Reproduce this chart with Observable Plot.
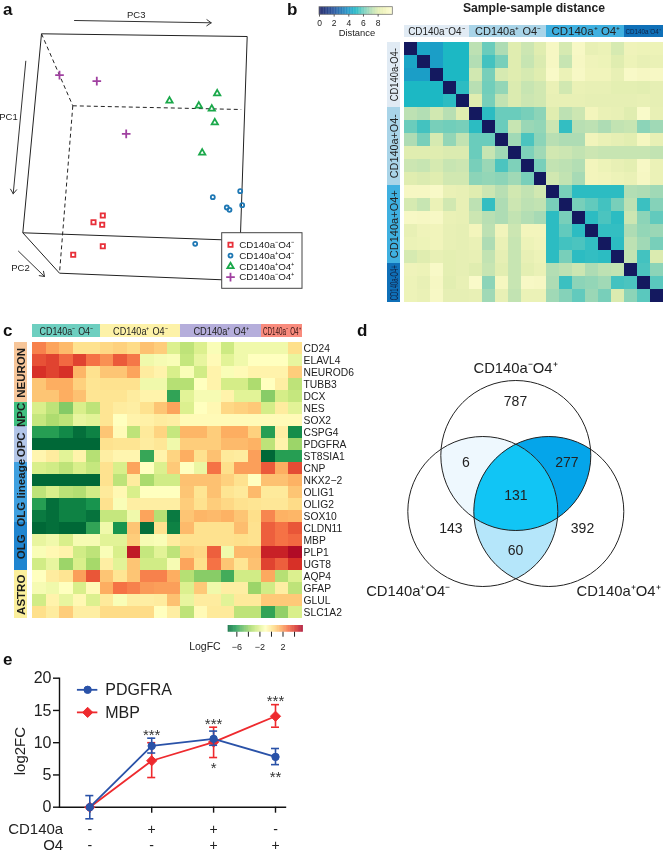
<!DOCTYPE html>
<html><head><meta charset="utf-8">
<script src="https://cdn.jsdelivr.net/npm/d3@7"></script>
<script src="https://cdn.jsdelivr.net/npm/@observablehq/plot@0.6"></script>
<style>
html,body{margin:0;padding:0;background:#fff}
#fig{position:relative;width:664px;height:853px;overflow:hidden;font-family:"Liberation Sans",Arial,sans-serif;filter:blur(.35px)}
.ltr{position:absolute;font:bold 17px "Liberation Sans",Arial,sans-serif;color:#111}
</style></head><body><div id="fig"></div>
<script>
// ---------- panel a: PCA scores
const pcaSquares = [[102.3,215],[93,221.7],[101.7,224.3],[102.3,245.7],[72.7,254.3]];
const pcaCircles = [[239.7,190.7],[212.3,196.7],[226.3,207],[229,209.3],[241.7,204.7],[194.7,243.3]];
const pcaTriangles = [[216.7,93],[169,100.3],[198.3,105.3],[211.3,108.3],[214.3,122],[201.7,152.3]];
const pcaPlus = [[59,74.7],[96.3,80.7],[125.7,133.3]];
const boxSolid = [[41,33.3,246.7,36],[246.7,36,240,233.3],[41,33.3,22.3,232.3],[22.3,232.3,222,239.3],[22.3,232.3,59,272.7],[59,272.7,222,279.3]];
const boxDashed = [[41,33.3,72.3,105.3],[72.3,105.3,240.7,109],[72.3,105.3,59,272.7]];
const pcArrows = [[74,20,210.7,22.3],[25.3,60.7,12.7,193.3],[18,250.7,44,276]];
const pcNames = ["PC3","PC1","PC2"];
const pcaLegend = ["CD140a⁻O4⁻","CD140a⁺O4⁻","CD140a⁺O4⁺","CD140a⁻O4⁺"];

// ---------- panel b: sample distances, upper triangle, rows start right of the diagonal
const distRows = [
 [4.4,4.2,5,5,7.3,6,7,8,7.6,8,9.3,7.8,9.4,8.4,8.6,7.8,8.8,8.7,8.7],
 [4.2,5,5,7.1,5.5,6.2,8,7.5,7.9,9.3,7.5,9.3,8.8,8.7,8,8.7,8.4,8.5],
 [5,5,7.7,6.2,7.8,8,7.8,8,9.5,8.6,9.4,8.9,8.9,8.4,9.5,9.3,9.4],
 [5.2,7.2,6.1,6.6,7.9,7.5,7.7,8.5,7.7,8.5,8.4,8.4,8.2,8.2,8.1,8.3],
 [8,6.2,7.4,7.9,7.6,7.7,8.4,8.4,8.4,8.3,8.3,8.3,8.3,8.4,8.3],
 [5.2,6,6,6.2,6.5,8,7.3,7.6,9,8.5,8.4,8,9.6,8.4],
 [6,7.5,6.7,6.6,7.6,5.3,7.2,7.3,7,7.4,7.5,6.5,6.8],
 [6.8,5.6,6.5,7.2,7,7,8.9,8.5,8.3,8.1,9.2,8.4],
 [6.3,6.8,7.7,7.6,7.4,7.6,7.5,7.5,7.5,7.5,7.4],
 [6.2,7.4,7.3,7.1,9,8.7,8.4,8.2,9.4,8.6],
 [7.7,7.4,6.9,9,8.9,8.7,8.5,9.3,8.6],
 [6.2,5.2,5.2,5.2,5.2,7.1,7,6.8],
 [6.2,5.9,5.5,6.2,7.3,5.4,6.4],
 [5.2,5.6,5.2,7.6,6.5,5.9],
 [5.3,5.3,7,6.6,6.7],
 [5.2,7.3,6.8,6.2],
 [7.4,5.5,7.9],
 [5.6,6.5],
 [5.8],
 []
];
const groupNames = ["CD140a⁻O4⁻","CD140a⁺ O4⁻","CD140a⁺ O4⁺","CD140a⁻O4⁺"];
const groupSizes = [5,6,6,3];
const distRowNames = ["CD140a-O4-","CD140a+O4-","CD140a+O4+","CD140a-O4+"];
const distStripColors = ["#e1ebf4","#a9d4e8","#3fb0e0","#0f70b8"];
const distStops = [0,2,4,5,6,7,8,9,10];
const distColors = ["#14195f","#1e4f9c","#1b98c8","#1cb8c4","#6accbc","#aedcb4","#e0edb0","#f3f5bc","#fdfdd2"];
const distTicks = [0,2,4,6,8];

// ---------- panel c: log fold change, gene by sample
const genes = ["CD24","ELAVL4","NEUROD6","TUBB3","DCX","NES","SOX2","CSPG4","PDGFRA","ST8SIA1","CNP","NKX2−2","OLIG1","OLIG2","SOX10","CLDN11","MBP","PLP1","UGT8","AQP4","GFAP","GLUL","SLC1A2"];
const logFC = [
 [2.5,1.8,1.3,.2,.2,.5,.7,.4,1.1,.8,-2.2,-3,-2.2,-1.2,-2.6,-1.5,-1.5,-1.5,-1.5,.3],
 [3.5,3.8,3,3.8,2.8,2.2,3.3,2.7,-1.5,-1.3,-1.2,-2.8,-1.8,-.8,-2,-1.5,-1,-1,-1,-1.8],
 [4.2,3.8,4.2,1.4,.2,1,1,1.8,-.2,-.5,-2.3,-1.2,-2.5,-.5,-1.2,-.8,-.5,-.5,-.5,.8],
 [1,1.6,1.6,.7,.1,.2,.2,.2,-1.5,-1.5,-3.2,-3.2,-1,-.5,-2.4,-2.4,-3.4,-1,-.3,-3],
 [1,1,1.6,1.1,.1,.1,.1,-.2,-.5,-.5,-5.8,-2,-1.3,-1.3,-.5,-2,-2,-4.2,-2.4,-2.8],
 [-2.3,-3,-4.3,-2.3,-3,.1,-.2,-.3,.2,1,1.8,-2.2,-1,-.7,.5,.7,.9,-2.4,-.2,-2],
 [-2.8,-3.4,-3,-1.8,-2,.1,-1,-.5,-.4,-.2,-.3,-.8,-.8,-.8,-.8,-.8,-.8,-.8,-.8,-.8],
 [-6,-6,-6.6,-7.3,-6.8,1,-.8,-3,-.1,.6,-2.8,1.4,1.4,.8,1.6,1.6,.7,-6,-.3,-6.5],
 [-7.5,-7.5,-7.5,-7.5,-7.5,.2,.1,.1,-.2,0,-1.5,.8,.8,.8,1.3,1.3,1.5,-3,-.5,-3.8],
 [-.6,-.2,-2,-.5,-3.2,-.3,-.6,-.6,-5.7,-.5,.6,1.6,.2,1.1,-.1,-.2,1.9,-7.5,-6,-6],
 [-2.3,-2.5,-3,-2.3,-2.8,.2,-2.3,1.8,-1,-2.2,.9,-1,-1.7,2.8,.3,1.9,1.9,3.3,1.6,3.6],
 [-7.5,-7.5,-7.5,-7.5,-7.5,.2,-3,-.2,-3.5,-2.5,-2.5,1.1,1.1,1.1,.7,.2,-1,1.1,1.1,1.5],
 [-3,-2.3,-3.1,-3.3,-2.5,-.1,-.7,-2.3,-1,-1,-1,1,.1,1.1,.1,-.1,1.3,-.1,-.1,1],
 [-6,-7.3,-6.8,-6.8,-6.3,.2,-1.2,-.3,-.3,-.3,-.3,.8,.2,.8,.5,.2,.1,0,0,.4],
 [-7,-7.3,-6.8,-6.8,-7.2,-2.8,-2.8,-1.5,1.8,-3.2,-7,1,1.4,1.3,1.5,1,.3,2.4,1.5,1.4],
 [-7.5,-7.3,-7.5,-7.5,-5.8,-1.5,-6.3,1,-7.3,.2,-6.8,1.3,.2,.2,.2,1.2,.2,3.2,2.8,3.4],
 [-1.8,-1.5,-2.3,-1.3,-1.3,-2,-2,.8,-1.3,-1.2,-.2,.2,.2,.2,.2,.3,.2,3.2,2.8,3],
 [-1.2,-.7,-.5,-2.5,-3,-1.2,-2.3,4.8,-2.8,-2,-3,.7,.5,3.2,-1.5,1.3,1.3,4.6,4.6,5.2],
 [-2.5,-1.8,-3.8,-2.3,-3.6,-.3,-2,1,-2.5,-2.5,-1.3,1.8,.3,2.8,1,.1,1.1,3.8,3.2,4.2],
 [-1,-.2,.1,1.9,3.4,1,.1,1,2.5,2.5,1.6,-3.2,-4.2,-4.2,-5.5,-2.5,-2.5,1.7,-3.2,-2.2],
 [-1.3,-1.5,-1,-2.3,-.8,1.6,2.8,2.5,2,1.9,1.9,-2.2,.9,-1.5,-.3,-.3,-3.8,-2.5,-.3,-3],
 [-2.5,-.5,-1.8,-.7,-2.2,-.1,-1.2,-.3,-.3,-.2,1.1,-1.8,-.2,-.2,-2,-.1,-.1,.9,.9,.9],
 [.3,-.2,.8,-.3,-.3,.4,.4,.4,.4,-1,-.3,-3,-.8,-.1,-.1,-3,-3,-5.8,-4,-2.3]
];
const headerNamesC = ["CD140a⁻ O4⁻","CD140a⁺ O4⁻","CD140a⁺ O4⁺","CD140a⁻ O4⁺"];
const headerColorsC = ["#6ecfc0","#fdf2a8","#b5aedb","#f98b7d"];
const lineages = ["NEURON","NPC","OPC","OLG lineage","OLG","ASTRO"];
const lineageSizes = [5,2,3,5,4,4];
const lineageColors = ["#f7c69a","#3fbf7f","#b3c6e8","#3fa0e0","#1f85d0","#fbef9c"];
const fcStops = [-7.5,-6.2,-4.9,-3.6,-2.3,-1,.3,1.6,2.9,4.2,5.5];
const fcColors = ["#006837","#1a9850","#66bd63","#a6d96a","#d9ef8b","#ffffbf","#fee08b","#fdae61","#f46d43","#d73027","#a50026"];
const fcTicks = [-6,-4,-2,0,2,4];
const fcTickLabels = [-6,-2,2];

// ---------- panel d: Venn counts
const vennCenters = {top:[175.3,125],left:[142.3,181],right:[208.3,181]};
const vennCounts = [["787",175,71],["6",125.3,132],["277",226.3,132],["131",175.3,164.7],["143",110.3,198],["392",242,198],["60",175,219.7]];
const vennNames = [["CD140a⁻O4⁺",175,38],["CD140a⁺O4⁻",67.7,261],["CD140a⁺O4⁺",278,261]];

// ---------- panel e: expression
const conditions = [0,1,2,3];
const pdgfra = [0,9.5,10.6,7.8];
const pdgfraLo = [-1.8,8.4,9.6,6.6];
const pdgfraHi = [1.8,10.7,11.8,9.1];
const mbp = [0,7.2,10.1,14.1];
const mbpLo = [0,4.6,7.7,12.4];
const mbpHi = [0,10,12.4,15.9];
const cd140aSigns = ["-","+","+","-"];
const o4Signs = ["-","-","+","+"];
const stars = [[1,"***",11.1],[2,"***",12.8],[3,"***",16.5],[2,"*",6],[3,"**",4.7]];

// ---------- helpers
const fig = document.getElementById("fig");
const FONT = '"Liberation Sans",Arial,sans-serif';
function place(left, top, w, h, opts){
  const el = Plot.plot({width:w, height:h, margin:0,
    style:{position:"absolute",left:left+"px",top:top+"px",background:"none",overflow:"visible",fontFamily:FONT,maxWidth:"none"},
    ...opts});
  fig.appendChild(el); return el;
}
// fit a header label to the printed width of its colour strip
function squeeze(el, label, lengths){
  let k=0;
  el.querySelectorAll("text").forEach(t=>{
    if(t.textContent===label && k<lengths.length){
      t.setAttribute("textLength",lengths[k++]); t.setAttribute("lengthAdjust","spacingAndGlyphs");
    }
  });
}
function letter(t,x,y){const d=document.createElement("div");d.className="ltr";d.textContent=t;d.style.left=x+"px";d.style.top=y+"px";fig.appendChild(d);}
const edge = a => ({x1:a[0],y1:a[1],x2:a[2],y2:a[3]});
let acc=0; const groupSpans = groupSizes.map((n,i)=>{const s={i,a:acc,b:acc+n};acc+=n;return s;});

// ---------- panel a
const pcaMark = (arr,symbol,stroke,r=3,sw=1.8)=>Plot.dot(arr,{x:d=>d[0],y:d=>d[1],symbol,stroke,r,strokeWidth:sw,fill:"none"});
const pcaStyles = [["square2","#e8303a",2.7],["circle","#1f78b4",2],["triangle2","#1aa84a",3],["plus","#a040a0",2.9]];
place(0,0,310,310,{
  x:{axis:null,domain:[0,310],range:[0,310]}, y:{axis:null,domain:[0,310],range:[0,310]},
  marks:[
    Plot.link(boxSolid.map(edge),{x1:"x1",y1:"y1",x2:"x2",y2:"y2",stroke:"#222",strokeWidth:1}),
    Plot.link(boxDashed.map(edge),{x1:"x1",y1:"y1",x2:"x2",y2:"y2",stroke:"#222",strokeWidth:1,strokeDasharray:"4,3"}),
    Plot.arrow(pcArrows.map(edge),{x1:"x1",y1:"y1",x2:"x2",y2:"y2",stroke:"#333",strokeWidth:1,headLength:8,headAngle:70}),
    Plot.text(pcNames,{x:[135.7,8,20],y:[14.7,116.7,267],text:d=>d,fontSize:9.5,fill:"#222"}),
    pcaMark(pcaSquares,...pcaStyles[0]), pcaMark(pcaCircles,...pcaStyles[1]),
    pcaMark(pcaTriangles,...pcaStyles[2]), pcaMark(pcaPlus,...pcaStyles[3]),
    Plot.rect([0],{x1:221.7,x2:302,y1:232.7,y2:288.3,fill:"white",stroke:"#444",strokeWidth:1}),
    ...pcaLegend.map((t,i)=>pcaMark([[230,244.3+i*10.8]],...pcaStyles[i])),
    Plot.text(pcaLegend,{x:238.7,y:(d,i)=>244.3+i*10.8,text:d=>d,textAnchor:"start",fontSize:9.8,fill:"#222"})
  ]
});
letter("a",3,0);

// ---------- panel b
const distCells = [];
distRows.forEach((r,i)=>{
  distCells.push({i,j:i,v:0});
  r.forEach((v,k)=>{const j=i+k+1;distCells.push({i,j,v});distCells.push({i:j,j:i,v});});
});
const bPlot = place(310,0,354,310,{
  x:{axis:null,domain:[0,20],range:[93.7,353.3]}, y:{axis:null,domain:[0,20],range:[41.7,301.7]},
  color:{type:"linear",domain:distStops,range:distColors},
  marks:[
    Plot.rect(distCells,{x1:"j",x2:d=>d.j+1,y1:"i",y2:d=>d.i+1,fill:"v",shapeRendering:"crispEdges"}),
    Plot.rect(groupSpans,{x1:"a",x2:"b",y1:-1.285,y2:-.338,fill:{value:d=>distStripColors[d.i],scale:null},shapeRendering:"crispEdges"}),
    Plot.rect(groupSpans,{y1:"a",y2:"b",x1:-1.26,x2:-.28,fill:{value:d=>distStripColors[d.i],scale:null},shapeRendering:"crispEdges"}),
    Plot.text(groupSpans.slice(0,3),{x:d=>(d.a+d.b)/2,y:-.81,text:d=>groupNames[d.i],fontSize:11,fill:"#222"}),
    Plot.text(groupSpans.slice(3),{x:d=>(d.a+d.b)/2-.1,y:-.81,text:d=>groupNames[d.i],fontSize:7,fill:"#124"}),
    Plot.text(groupSpans,{y:d=>(d.a+d.b)/2,x:-.77,text:d=>distRowNames[d.i],rotate:-90,fontSize:11,fill:d=>d.i===3?"#124":"#222"}),
    Plot.text(["Sample-sample distance"],{x:10,y:-2.66,text:d=>d,fontSize:12.2,fontWeight:"bold",fill:"#222"})
  ]
});
[57,66,69,35].forEach((n,i)=>squeeze(bPlot,groupNames[i],[n]));
[53,64,68,35].forEach((n,i)=>squeeze(bPlot,distRowNames[i],[n]));
place(310,0,95,40,{
  x:{axis:null,domain:[0,10],range:[9,82.3]}, y:{axis:null,domain:[0,1],range:[6.7,14.3]},
  color:{type:"linear",domain:distStops,range:distColors},
  marks:[
    Plot.rect(d3.range(0,10,.1),{x1:d=>d,x2:d=>d+.12,y1:0,y2:1,fill:d=>d}),
    Plot.rect([0],{x1:0,x2:10,y1:0,y2:1,stroke:"#777",fill:"none",strokeWidth:.8}),
    Plot.ruleX(distTicks,{x:d=>d,y1:1,y2:1.3,stroke:"#333",strokeWidth:.8}),
    Plot.text(distTicks,{x:d=>d,y:2.05,text:d=>d,fontSize:8.5,fill:"#222"}),
    Plot.text(["Distance"],{x:5.1,y:3.45,text:d=>d,fontSize:9.4,fill:"#222"})
  ]
});
letter("b",287,0);

// ---------- panel c
const fcCells = logFC.flatMap((r,i)=>r.map((v,j)=>({i,j,v})));
let accL=0; const lineageSpans = lineageSizes.map((n,i)=>{const s={i,a:accL,b:accL+n};accL+=n;return s;});
const cPlot = place(0,315,360,310,{
  x:{axis:null,domain:[0,20],range:[32.3,301.7]}, y:{axis:null,domain:[0,23],range:[27.3,303.3]},
  color:{type:"linear",domain:fcStops,range:fcColors},
  marks:[
    Plot.rect(fcCells,{x1:"j",x2:d=>d.j+1,y1:"i",y2:d=>d.i+1,fill:"v",shapeRendering:"crispEdges"}),
    Plot.rect(groupSpans,{x1:"a",x2:"b",y1:-1.53,y2:-.42,fill:{value:d=>headerColorsC[d.i],scale:null},shapeRendering:"crispEdges"}),
    Plot.rect(lineageSpans,{y1:"a",y2:"b",x1:-1.36,x2:-.37,fill:{value:d=>lineageColors[d.i],scale:null},shapeRendering:"crispEdges"}),
    Plot.text(groupSpans,{x:d=>(d.a+d.b)/2,y:-.97,text:d=>headerNamesC[d.i],fontSize:10.5,fill:d=>d.i===3?"#301010":"#222"}),
    Plot.text(lineageSpans,{y:d=>(d.a+d.b)/2,x:-.87,text:d=>lineages[d.i],rotate:-90,fontSize:11.5,fontWeight:"bold",fill:"#1c1c1c"}),
    Plot.text(genes,{x:20.1,y:(d,i)=>i+.5,text:d=>d,textAnchor:"start",fontSize:10.3,fill:"#222"})
  ]
});
squeeze(cPlot,headerNamesC[0],[54]); squeeze(cPlot,headerNamesC[1],[55]);
squeeze(cPlot,headerNamesC[2],[56]); squeeze(cPlot,headerNamesC[3],[38]);
place(190,620,120,40,{
  x:{axis:null,domain:[-7.5,5.5],range:[37.7,112.7]}, y:{axis:null,domain:[0,1],range:[5,11.7]},
  color:{type:"linear",domain:fcStops,range:fcColors},
  marks:[
    Plot.rect(d3.range(-7.5,5.5,.1),{x1:d=>d,x2:d=>d+.12,y1:0,y2:1,fill:d=>d}),
    Plot.ruleX(fcTicks,{x:d=>d,y1:1,y2:1.75,stroke:"#222",strokeWidth:1}),
    Plot.text(fcTickLabels,{x:d=>d,y:3.2,text:d=>d===-6?"−6":d===-2?"−2":String(d),fontSize:9,fill:"#222"}),
    Plot.text(["LogFC"],{x:-8.8,y:3.2,text:d=>d,textAnchor:"end",fontSize:10.5,fill:"#222"})
  ]
});
letter("c",3,321);

// ---------- panel d
const R = 75;
function lens(names){
  const cs = names.map(n=>vennCenters[n]);
  const inside = (p,c)=>Math.hypot(p[0]-c[0],p[1]-c[1])<=R+1e-6;
  const pts=[];
  cs.forEach(c=>d3.range(0,720).forEach(a=>{
    const t=a*Math.PI/360,p=[c[0]+R*Math.cos(t),c[1]+R*Math.sin(t)];
    if(cs.every(o=>inside(p,o))) pts.push(p);
  }));
  const m=[d3.mean(pts,p=>p[0]),d3.mean(pts,p=>p[1])];
  return pts.sort((a,b)=>Math.atan2(a[1]-m[1],a[0]-m[0])-Math.atan2(b[1]-m[1],b[0]-m[0]));
}
const lensMark=(names,fill)=>Plot.line(lens(names),{x:d=>d[0],y:d=>d[1],fill,stroke:"none"});
place(340,330,324,290,{
  x:{axis:null,domain:[0,324],range:[0,324]}, y:{axis:null,domain:[0,290],range:[0,290]},
  marks:[
    lensMark(["top","left"],"#eef8fe"),
    lensMark(["top","right"],"#05a5ea"),
    lensMark(["left","right"],"#b5e6fa"),
    lensMark(["top","left","right"],"#11c5f5"),
    Plot.dot(Object.values(vennCenters),{x:d=>d[0],y:d=>d[1],r:R,fill:"none",stroke:"#222",strokeWidth:1}),
    Plot.text(vennCounts,{x:d=>d[1],y:d=>d[2],text:d=>d[0],fontSize:14,fill:"#222"}),
    Plot.text(vennNames,{x:d=>d[1],y:d=>d[2],text:d=>d[0],fontSize:14.8,fill:"#222"})
  ]
});
letter("d",357,321);

// ---------- panel e
const series = [
  {name:"PDGFRA",v:pdgfra,lo:pdgfraLo,hi:pdgfraHi,color:"#2a52a8",symbol:"circle",r:3.7,ly:18.2},
  {name:"MBP",v:mbp,lo:mbpLo,hi:mbpHi,color:"#ee2a2e",symbol:"diamond2",r:4.6,ly:14.7}
];
const order = [series[1],series[0]];
place(0,650,310,203,{
  marginLeft:59,marginRight:25,marginTop:27.7,marginBottom:46.3,
  x:{axis:null,domain:[0,3],range:[89.3,275]}, y:{axis:null,domain:[0,20]},
  marks:[
    Plot.frame({anchor:"left",stroke:"#111",strokeWidth:1.4}),
    Plot.frame({anchor:"bottom",stroke:"#111",strokeWidth:1.4}),
    Plot.axisY({ticks:[0,5,10,15,20],tickSize:6,fontSize:16,label:null,tickPadding:2,stroke:"#111",strokeWidth:1.4,fill:"#222"}),
    Plot.axisX({ticks:conditions,tickSize:6,tickFormat:()=>"",label:null,stroke:"#111",strokeWidth:1.4}),
    Plot.text(["log2FC"],{x:-1.12,y:8.7,text:d=>d,rotate:-90,fontSize:15,fill:"#222"}),
    ...order.flatMap(s=>[
      Plot.line(conditions,{x:d=>d,y:d=>s.v[d],stroke:s.color,strokeWidth:1.8}),
      Plot.ruleX(conditions,{x:d=>d,y1:d=>s.lo[d],y2:d=>s.hi[d],stroke:s.color,strokeWidth:1.6}),
      Plot.ruleY(conditions,{x1:d=>d-.065,x2:d=>d+.065,y:d=>s.lo[d],stroke:s.color,strokeWidth:1.6}),
      Plot.ruleY(conditions,{x1:d=>d-.065,x2:d=>d+.065,y:d=>s.hi[d],stroke:s.color,strokeWidth:1.6}),
      Plot.dot(conditions,{x:d=>d,y:d=>s.v[d],fill:s.color,stroke:s.color,strokeWidth:1,symbol:s.symbol,r:s.r})
    ]),
    ...series.flatMap(s=>[
      Plot.ruleY([s.ly],{x1:-.2,x2:.13,stroke:s.color,strokeWidth:1.8}),
      Plot.dot([s.ly],{x:-.035,y:d=>d,fill:s.color,stroke:s.color,strokeWidth:1,symbol:s.symbol,r:s.r}),
      Plot.text([s.name],{x:.25,y:s.ly,text:d=>d,textAnchor:"start",fontSize:16,fill:"#222"})
    ]),
    Plot.text(stars,{x:d=>d[0],y:d=>d[2],text:d=>d[1],fontSize:15,fill:"#333"}),
    Plot.text(cd140aSigns,{x:(d,i)=>i,y:-3.46,text:d=>d,fontSize:14,fill:"#222"}),
    Plot.text(o4Signs,{x:(d,i)=>i,y:-5.95,text:d=>d,fontSize:14,fill:"#222"}),
    Plot.text(["CD140a","O4"],{x:-.43,y:[-3.46,-5.95],text:d=>d,textAnchor:"end",fontSize:15,fill:"#222"})
  ]
});
letter("e",3,650);
</script></body></html>
